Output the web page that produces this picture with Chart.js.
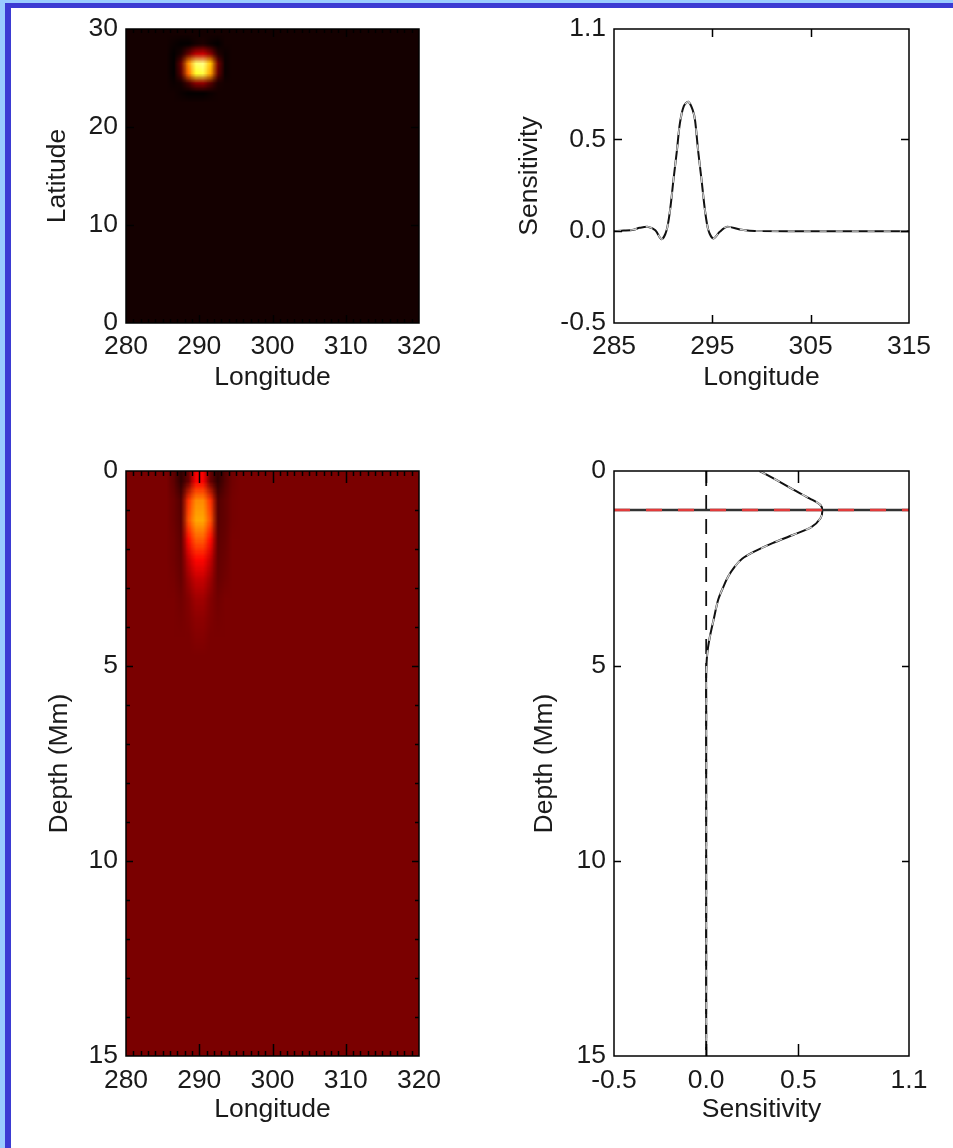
<!DOCTYPE html>
<html>
<head>
<meta charset="utf-8">
<script src="https://cdn.jsdelivr.net/npm/chart.js@4.4.0/dist/chart.umd.min.js"></script>
<style>
  html, body { margin: 0; padding: 0; background: #fff; }
  #page { position: relative; width: 953px; height: 1148px; overflow: hidden; background: #fff; }
  #frame1 { position: absolute; left: 0; top: 0; width: 953px; height: 1148px; box-sizing: border-box;
            border-left: 5px solid #99ccff; border-top: 3px solid #99ccff; }
  #frame2 { position: absolute; left: 5px; top: 3px; width: 948px; height: 1145px; box-sizing: border-box;
            border-left: 6px solid #3b3bd3; border-top: 5px solid #3b3bd3; }
  canvas { position: absolute; }
</style>
</head>
<body>
<div id="page">
  <div id="frame1"></div>
  <div id="frame2"></div>
  <canvas id="mapTop" width="476" height="420" style="left:0;top:0"></canvas>
  <canvas id="lonProfile" width="477" height="420" style="left:476px;top:0"></canvas>
  <canvas id="mapDepth" width="476" height="728" style="left:0;top:420px"></canvas>
  <canvas id="depthProfile" width="477" height="728" style="left:476px;top:420px"></canvas>
</div>
<script>
// ---- data ----
const mapLonTicks = [280, 290, 300, 310, 320];
const latTicks = [0, 10, 20, 30];
const depthTicks = [0, 5, 10, 15];
const profileLonTicks = [285, 295, 305, 315];
const sensTicks = [-0.5, 0.0, 0.5, 1.1];

// latitude/longitude kernel slice (1 degree cells, cell = [value, value+1)), rest is 0
const topCellLon = [286, 287, 288, 289, 290, 291, 292, 293];
const topCellLat = [28, 27, 26, 25, 24, 23];
const topCellSens = [
  [-0.01, -0.02, -0.02,  0.00,  0.01, -0.01, -0.02,  0.00],
  [-0.02,  0.01,  0.10,  0.20,  0.22,  0.14,  0.02, -0.01],
  [-0.02,  0.10,  0.46,  0.68,  0.70,  0.52,  0.12, -0.01],
  [-0.02,  0.08,  0.42,  0.63,  0.65,  0.48,  0.10, -0.01],
  [-0.01,  0.00,  0.06,  0.14,  0.15,  0.08,  0.01,  0.00],
  [ 0.00, -0.01, -0.02, -0.02, -0.02, -0.01,  0.00,  0.00]
];

// depth/longitude kernel slice (1 degree x 0.5 Mm cells), rest is 0
const depthCellLon = [285, 286, 287, 288, 289, 290, 291, 292, 293, 294];
const depthCellDepth = [0, 0.5, 1.0, 1.5, 2.0, 2.5, 3.0, 3.5, 4.0];
const depthCellSens = [
  [0, -0.06, -0.16, -0.04, 0.27, 0.27, -0.04, -0.16, -0.08, -0.02],
  [0, -0.03, -0.08,  0.38, 0.57, 0.57,  0.38, -0.08, -0.05, -0.01],
  [0, -0.03, -0.07,  0.45, 0.63, 0.63,  0.45, -0.07, -0.05, -0.01],
  [0, -0.02, -0.06,  0.30, 0.47, 0.47,  0.30, -0.06, -0.04,  0.00],
  [0, -0.02, -0.05,  0.15, 0.29, 0.29,  0.15, -0.05, -0.03,  0.00],
  [0, -0.01, -0.04,  0.07, 0.16, 0.16,  0.07, -0.04, -0.02,  0.00],
  [0,  0.00, -0.02,  0.02, 0.08, 0.08,  0.02, -0.02,  0.00,  0.00],
  [0,  0.00, -0.01,  0.01, 0.04, 0.04,  0.01, -0.01,  0.00,  0.00],
  [0,  0.00,  0.00,  0.00, 0.02, 0.02,  0.00,  0.00,  0.00,  0.00]
];

// horizontal sensitivity profile
const lonProfileLon  = [285, 286, 287, 287.6, 288.5, 289.2, 289.85, 290.35, 290.7, 291.05, 291.4, 291.7, 292.1, 292.55,
                        293.0, 293.25, 293.55, 293.9, 294.25, 294.6, 295.1, 295.75, 296.45, 297.8, 298.8, 300, 305, 310, 315];
const lonProfileSens = [0, 0.003, 0.008, 0.018, 0.023, 0.005, -0.044, 0.005, 0.114, 0.28, 0.44, 0.586, 0.68, 0.704,
                        0.66, 0.60, 0.44, 0.28, 0.114, 0.005, -0.04, -0.004, 0.023, 0.009, 0.002, 0, 0, 0, 0];

// vertical sensitivity profile
const depthProfileDepth = [0, 0.23, 0.47, 0.7, 0.87, 1.02, 1.21, 1.44, 1.64, 1.85, 2.07, 2.25, 2.45, 2.7, 2.95,
                           3.3, 3.82, 4.25, 4.67, 5.2, 6, 8, 10, 12, 15];
const depthProfileSens  = [0.29, 0.38, 0.47, 0.56, 0.62, 0.63, 0.62, 0.57, 0.47, 0.36, 0.26, 0.195, 0.155, 0.12, 0.095,
                           0.065, 0.04, 0.02, 0.006, 0.0, 0, 0, 0, 0, 0];

const targetDepth = [1, 1];
const targetSens = [-0.5, 1.1];
const zeroSens = [0, 0];
const zeroDepth = [0, 15];

// ---- helpers ----
const FONT = { family: '"Liberation Sans", Arial, sans-serif', size: 26.5 };
const INK = '#1a1a1a';

function pts(xs, ys) { return xs.map((v, i) => ({ x: v, y: ys[i] })); }

// matlab "hot" colormap
function hot(t) {
  t = Math.max(0, Math.min(1, t));
  const r = Math.min(1, t / 0.375);
  const g = Math.max(0, Math.min(1, (t - 0.375) / 0.375));
  const b = Math.max(0, (t - 0.75) / 0.25);
  return [r * 255, g * 255, b * 255];
}

function heatLayer(spec) {
  return {
    id: 'heat',
    beforeDatasetsDraw(chart) {
      const { ctx, scales: { x, y } } = chart;
      const nx = Math.round((x.max - x.min) / spec.dx);
      const ny = Math.round((y.max - y.min) / spec.dy);
      const grid = [];
      for (let j = 0; j < ny; j++) grid.push(new Array(nx).fill(0));
      spec.rows.forEach((yv, r) => spec.cols.forEach((xv, c) => {
        const i = Math.round((xv - x.min) / spec.dx);
        const j = Math.round((yv - y.min) / spec.dy);
        grid[j][i] = spec.values[r][c];
      }));
      const off = document.createElement('canvas');
      off.width = nx; off.height = ny;
      const octx = off.getContext('2d');
      const img = octx.createImageData(nx, ny);
      const y0 = y.getPixelForValue(y.min), y1 = y.getPixelForValue(y.max);
      const flip = y0 > y1;
      for (let j = 0; j < ny; j++) {
        for (let i = 0; i < nx; i++) {
          const row = flip ? ny - 1 - j : j;
          const c = hot((grid[j][i] - spec.vmin) / (spec.vmax - spec.vmin));
          const k = 4 * (row * nx + i);
          img.data[k] = c[0]; img.data[k + 1] = c[1]; img.data[k + 2] = c[2]; img.data[k + 3] = 255;
        }
      }
      octx.putImageData(img, 0, 0);
      const left = x.getPixelForValue(x.min), right = x.getPixelForValue(x.max);
      ctx.save();
      ctx.imageSmoothingEnabled = true;
      ctx.drawImage(off, left, Math.min(y0, y1), right - left, Math.abs(y1 - y0));
      ctx.restore();
    }
  };
}

// box with inward ticks on all four sides
function boxTicks(spec) {
  return {
    id: 'boxTicks',
    afterDatasetsDraw(chart) {
      const { ctx, chartArea: a, scales: { x, y } } = chart;
      ctx.save();
      ctx.strokeStyle = '#000';
      ctx.lineWidth = 1.5;
      ctx.beginPath();
      const vTick = (v, len) => {
        const p = Math.round(x.getPixelForValue(v)) + 0.5;
        ctx.moveTo(p, a.bottom); ctx.lineTo(p, a.bottom - len);
        ctx.moveTo(p, a.top); ctx.lineTo(p, a.top + len);
      };
      const hTick = (v, len) => {
        const p = Math.round(y.getPixelForValue(v)) + 0.5;
        ctx.moveTo(a.left, p); ctx.lineTo(a.left + len, p);
        ctx.moveTo(a.right, p); ctx.lineTo(a.right - len, p);
      };
      if (spec.minorX) for (let v = x.min + spec.minorX; v < x.max; v += spec.minorX) vTick(v, spec.minorLenX);
      if (spec.minorY) for (let v = y.min + spec.minorY; v < y.max; v += spec.minorY) hTick(v, spec.minorLenY);
      x.ticks.forEach(t => { if (t.value > x.min && t.value < x.max) vTick(t.value, spec.lenX); });
      y.ticks.forEach(t => { if (t.value > y.min && t.value < y.max) hTick(t.value, spec.lenY); });
      ctx.stroke();
      ctx.strokeRect(a.left, a.top, a.width, a.height);
      ctx.restore();
    }
  };
}

function axis(o) {
  return {
    type: 'linear',
    min: o.min, max: o.max, reverse: !!o.reverse,
    afterBuildTicks: s => { s.ticks = o.ticks.map(v => ({ value: v })); },
    afterFit: s => { if (o.width) s.width = o.width; if (o.height) s.height = o.height; },
    grid: { display: false, drawTicks: false },
    border: { display: false },
    ticks: {
      color: INK, font: FONT, padding: o.pad, autoSkip: false, maxRotation: 0,
      callback: v => (o.digits ? Number(v).toFixed(o.digits) : String(v))
    },
    title: { display: true, text: o.title, color: INK, font: FONT, padding: o.titlePad }
  };
}

function panel(id, o) {
  return new Chart(document.getElementById(id), {
    type: 'scatter',
    data: { datasets: o.datasets || [] },
    options: {
      responsive: false, animation: false, events: [],
      devicePixelRatio: 1,
      layout: { autoPadding: false, padding: o.padding },
      plugins: { legend: { display: false }, tooltip: { enabled: false } },
      scales: { x: o.x, y: o.y }
    },
    plugins: o.plugins
  });
}

// ---- top left: latitude / longitude map ----
panel('mapTop', {
  padding: { left: 0, top: 29, right: 57, bottom: 0 },
  x: axis({ min: 280, max: 320, ticks: mapLonTicks, title: 'Longitude', height: 97, pad: 8,
            titlePad: { top: 0, bottom: 26 } }),
  y: axis({ min: 0, max: 30, ticks: latTicks, title: 'Latitude', width: 126, pad: 8,
            titlePad: { top: 42, bottom: 0 } }),
  plugins: [
    heatLayer({ dx: 1, dy: 1, cols: topCellLon, rows: topCellLat, values: topCellSens, vmin: -0.024, vmax: 0.8 }),
    boxTicks({ lenX: 8, lenY: 8, minorX: 1, minorLenX: 4, minorY: 0, minorLenY: 0 })
  ]
});

// ---- top right: sensitivity vs longitude ----
panel('lonProfile', {
  padding: { left: 0, top: 29, right: 44, bottom: 0 },
  x: axis({ min: 285, max: 315, ticks: profileLonTicks, title: 'Longitude', height: 97, pad: 8,
            titlePad: { top: 0, bottom: 26 } }),
  y: axis({ min: -0.5, max: 1.1, ticks: sensTicks, title: 'Sensitivity', width: 138, pad: 8, digits: 1,
            titlePad: { top: 38, bottom: 0 } }),
  datasets: [
    { data: pts(lonProfileLon, lonProfileSens), showLine: true, pointRadius: 0, tension: 0.3,
      borderColor: '#cfcfcf', borderWidth: 1.4, borderDash: [7, 9] },
    { data: pts(lonProfileLon, lonProfileSens), showLine: true, pointRadius: 0, tension: 0.3,
      borderColor: '#111', borderWidth: 2 }
  ],
  plugins: [boxTicks({ lenX: 8, lenY: 8 })]
});

// ---- bottom left: depth / longitude map ----
panel('mapDepth', {
  padding: { left: 0, top: 51, right: 57, bottom: 0 },
  x: axis({ min: 280, max: 320, ticks: mapLonTicks, title: 'Longitude', height: 92, pad: 9,
            titlePad: { top: 0, bottom: 22 } }),
  y: axis({ min: 0, max: 15, ticks: depthTicks, title: 'Depth (Mm)', width: 126, pad: 8, reverse: true,
            titlePad: { top: 44, bottom: 0 } }),
  plugins: [
    heatLayer({ dx: 1, dy: 0.5, cols: depthCellLon, rows: depthCellDepth, values: depthCellSens, vmin: -0.257, vmax: 1.17 }),
    boxTicks({ lenX: 12, lenY: 7, minorX: 1, minorLenX: 5, minorY: 1, minorLenY: 4 })
  ]
});

// ---- bottom right: sensitivity vs depth ----
panel('depthProfile', {
  padding: { left: 0, top: 51, right: 44, bottom: 0 },
  x: axis({ min: -0.5, max: 1.1, ticks: sensTicks, title: 'Sensitivity', height: 92, pad: 9, digits: 1,
            titlePad: { top: 0, bottom: 22 } }),
  y: axis({ min: 0, max: 15, ticks: depthTicks, title: 'Depth (Mm)', width: 138, pad: 8, reverse: true,
            titlePad: { top: 53, bottom: 0 } }),
  datasets: [
    { data: pts(targetSens, targetDepth), showLine: true, pointRadius: 0,
      borderColor: '#e23b3b', borderWidth: 2.5, borderDash: [16, 16] },
    { data: pts(targetSens, targetDepth), showLine: true, pointRadius: 0,
      borderColor: '#333', borderWidth: 2.5 },
    { data: pts(depthProfileSens, depthProfileDepth), showLine: true, pointRadius: 0, tension: 0.3,
      borderColor: '#cfcfcf', borderWidth: 1.4, borderDash: [7, 9] },
    { data: pts(depthProfileSens, depthProfileDepth), showLine: true, pointRadius: 0, tension: 0.3,
      borderColor: '#111', borderWidth: 2 },
    { data: pts(zeroSens, zeroDepth), showLine: true, pointRadius: 0,
      borderColor: '#111', borderWidth: 1.8, borderDash: [15, 9] }
  ],
  plugins: [boxTicks({ lenX: 12, lenY: 7 })]
});
</script>
</body>
</html>
